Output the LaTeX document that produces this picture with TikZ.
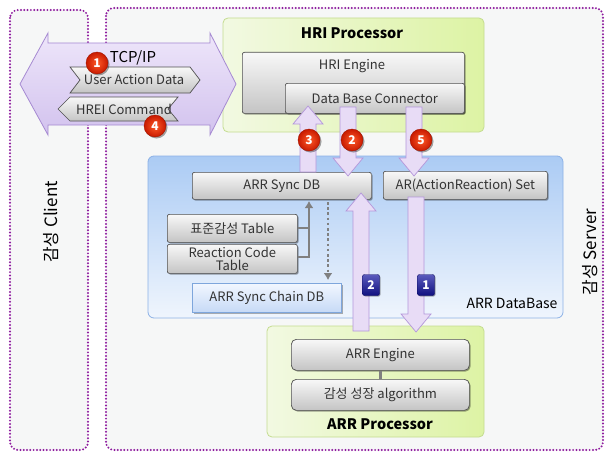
\documentclass[tikz,border=0pt]{standalone}
\usepackage{fontspec}
\setmainfont{Noto Sans CJK KR}
\usetikzlibrary{calc,shadows,arrows.meta}
\definecolor{dotpurple}{HTML}{8E1B9E}
\definecolor{panelbg}{HTML}{F6F7F7}
\definecolor{tcptop}{HTML}{EEE6FA}
\definecolor{tcpbot}{HTML}{D2C2EE}
\definecolor{tcpline}{HTML}{A68AD2}
\definecolor{grnL}{HTML}{F2F9E2}
\definecolor{grnR}{HTML}{DDF3A4}
\definecolor{grnline}{HTML}{C4DC90}
\definecolor{bluetop}{HTML}{ABCBF4}
\definecolor{bluebot}{HTML}{EFF5FD}
\definecolor{blueline}{HTML}{8CB1E6}
\definecolor{graytop}{HTML}{F8F8F8}
\definecolor{graybot}{HTML}{C4C4C4}
\definecolor{grayline}{HTML}{505050}
\definecolor{txt}{HTML}{333333}
\definecolor{afill}{HTML}{E8DCF6}
\definecolor{aline}{HTML}{B497DA}
\definecolor{redin}{HTML}{FF5A28}
\definecolor{redout}{HTML}{C81A00}
\definecolor{badgeblue}{HTML}{1414A0}
\definecolor{conngray}{HTML}{808080}
\definecolor{chaintop}{HTML}{F2F7FF}
\definecolor{chainbot}{HTML}{C6DAF6}
\definecolor{chainline}{HTML}{7EA6DC}
\tikzset{
  panel/.style={draw=dotpurple, line width=2.2pt, dash pattern=on 0pt off 3.3pt, line cap=round, rounded corners=8pt, fill=panelbg},
  graybox/.style={draw=grayline, line width=0.7pt, rounded corners=2pt, top color=graytop, bottom color=graybot, text=txt, inner sep=1pt, anchor=north west,
     drop shadow={shadow xshift=1.2pt, shadow yshift=-1.2pt, opacity=0.35, fill=black}},
  fatarrow/.style={draw=aline, line width=0.7pt, fill=afill, line join=miter},
  redbadge/.style={circle, minimum size=22pt, inner sep=0pt, inner color=redin, outer color=redout, draw=redout!80!black, line width=0.4pt, text=white, font=\fontsize{12}{12}\selectfont\bfseries,
     drop shadow={shadow xshift=1.5pt, shadow yshift=-1.5pt, opacity=0.35, fill=black}},
  bluebadge/.style={rounded corners=2pt, minimum width=17pt, minimum height=21pt, inner sep=0pt, top color=badgeblue!70!white, bottom color=badgeblue!80!black, draw=badgeblue!60!black, text=white, font=\fontsize{12}{12}\selectfont\bfseries,
     drop shadow={shadow xshift=1pt, shadow yshift=-1pt, opacity=0.3, fill=black}},
  title/.style={font=\fontsize{14.5}{16}\selectfont\bfseries, text=black},
}
\newcommand\fatup[3]{% x, ytip, ybase
  \draw[fatarrow] (#1,#2) -- ++(15,18) -- ++(-7,0) -- (#1+8,#3) -- (#1-8,#3) -- (#1-8,#2+18) -- ++(-7,0) -- cycle;}
\newcommand\fatdown[3]{% x, ytip, ytop
  \draw[fatarrow] (#1,#2) -- ++(15,-18) -- ++(-7,0) -- (#1+8,#3) -- (#1-8,#3) -- (#1-8,#2-18) -- ++(-7,0) -- cycle;}
\begin{document}
\begin{tikzpicture}[x=1pt,y=-1pt, font=\fontsize{13}{15}\selectfont]
\useasboundingbox (0,0) rectangle (607,452);
\fill[white] (0,0) rectangle (607,452);
% panels
\draw[panel] (10,10) rectangle (88,450);
\draw[panel] (106,8) rectangle (603,450);
\node[rotate=90, font=\fontsize{17}{19}\selectfont, text=black] (client) at (51,222) {감성 Client};
\node[rotate=90, font=\fontsize{17}{19}\selectfont, text=black] (server) at (590,252) {감성 Server};
% HRI processor
\draw[draw=grnline, line width=0.8pt, rounded corners=5pt, left color=grnL, right color=grnR] (223,18) rectangle (484,132);
\node[title] (hriproc) at (352,33) {HRI Processor};
\node[graybox, minimum width=222pt, minimum height=61pt, text depth=0pt, anchor=north west] (hrieng) at (242,52) {};
\node[text=txt] (hrienglbl) at (352,66) {HRI Engine};
\node[graybox, minimum width=179pt, minimum height=30pt, drop shadow={opacity=0}] (dbc) at (285,83) {Data Base Connector};
% ARR database
\draw[draw=blueline, line width=0.8pt, rounded corners=6pt, top color=bluetop, bottom color=bluebot] (148,156) rectangle (563,318);
\node[font=\fontsize{14}{16}\selectfont, text=black, anchor=east] (arrdb) at (561,303) {ARR DataBase};
\node[graybox, minimum width=179pt, minimum height=27pt] (sync) at (192,172) {ARR Sync DB};
\node[graybox, minimum width=164pt, minimum height=28pt] (arset) at (383,171) {AR(ActionReaction) Set};
\node[graybox, minimum width=130pt, minimum height=28pt] (tbl1) at (167,214) {표준감성 Table};
\node[graybox, minimum width=130pt, minimum height=29pt, align=center, font=\fontsize{13}{13}\selectfont] (tbl2) at (167,244) {Reaction Code\\Table};
\node[draw=chainline, line width=0.7pt, top color=chaintop, bottom color=chainbot, minimum width=149pt, minimum height=29pt, anchor=north west, text=txt, inner sep=1pt,
   drop shadow={shadow xshift=1.2pt, shadow yshift=-1.2pt, opacity=0.3, fill=black}] (chain) at (192,283) {ARR Sync Chain DB};
% gray connectors
\coordinate (brk) at (309,257);
\draw[conngray, line width=2.6pt] (tbl1.east |- 0,228) -- (309,228);
\draw[conngray, line width=2.6pt, -{Latex[length=7pt,width=9pt]}] (tbl2.east |- brk) -- (brk) -- (309,201);
\draw[conngray, line width=2.6pt, dash pattern=on 2.6pt off 2.6pt, -{Latex[length=7pt,width=9pt]}] (328,202) -- (328,280);
% ARR processor
\draw[draw=grnline, line width=0.8pt, rounded corners=5pt, left color=grnL, right color=grnR] (267,326) rectangle (484,437);
\node[title] (arrproc) at (380,424) {ARR Processor};
\node[graybox, minimum width=178pt, minimum height=31pt, rounded corners=5pt] (arreng) at (291,339) {ARR Engine};
\node[graybox, minimum width=178pt, minimum height=31pt, rounded corners=5pt] (algo) at (291,379) {감성 성장 algorithm};
\draw[conngray, line width=3pt] (arreng.south) -- (algo.north);
% TCP/IP double arrow
\draw[draw=tcpline, line width=0.8pt, top color=tcptop, bottom color=tcpbot, line join=miter]
  (20,84) -- (48,33) -- (48,43) -- (210,43) -- (210,33) -- (236,84) -- (210,135) -- (210,125) -- (48,125) -- (48,135) -- cycle;
\node[font=\fontsize{15}{17}\selectfont, text=black] (tcp) at (133,58) {TCP/IP};
\draw[draw=grayline, line width=0.7pt, top color=graytop, bottom color=graybot, line join=miter]
  (70,67) -- (190,67) -- (200,80) -- (190,93) -- (70,93) -- (80,80) -- cycle;
\node[text=txt] (uad) at (134,80) {User Action Data};
\draw[draw=grayline, line width=0.7pt, top color=graytop, bottom color=graybot, line join=miter]
  (70,97) -- (178,97) -- (168,109) -- (178,121) -- (70,121) -- (58,109) -- cycle;
\node[text=txt] (hrei) at (124,109) {HREI Command};
% fat arrows
\fatup{308}{106}{172}
\fatdown{348}{176}{107}
\fatdown{414}{176}{107}
\fatup{361}{193}{331}
\fatdown{416}{332}{197}
% badges
\node[redbadge] (b1) at (97,63) {1};
\node[redbadge] (b4) at (155,126) {4};
\node[redbadge] (b3) at (309,140) {3};
\node[redbadge] (b2) at (352,140) {2};
\node[redbadge] (b5) at (421,140) {5};
\node[bluebadge] (bb2) at (371,285) {2};
\node[bluebadge] (bb1) at (426,285) {1};
\end{tikzpicture}
\end{document}
